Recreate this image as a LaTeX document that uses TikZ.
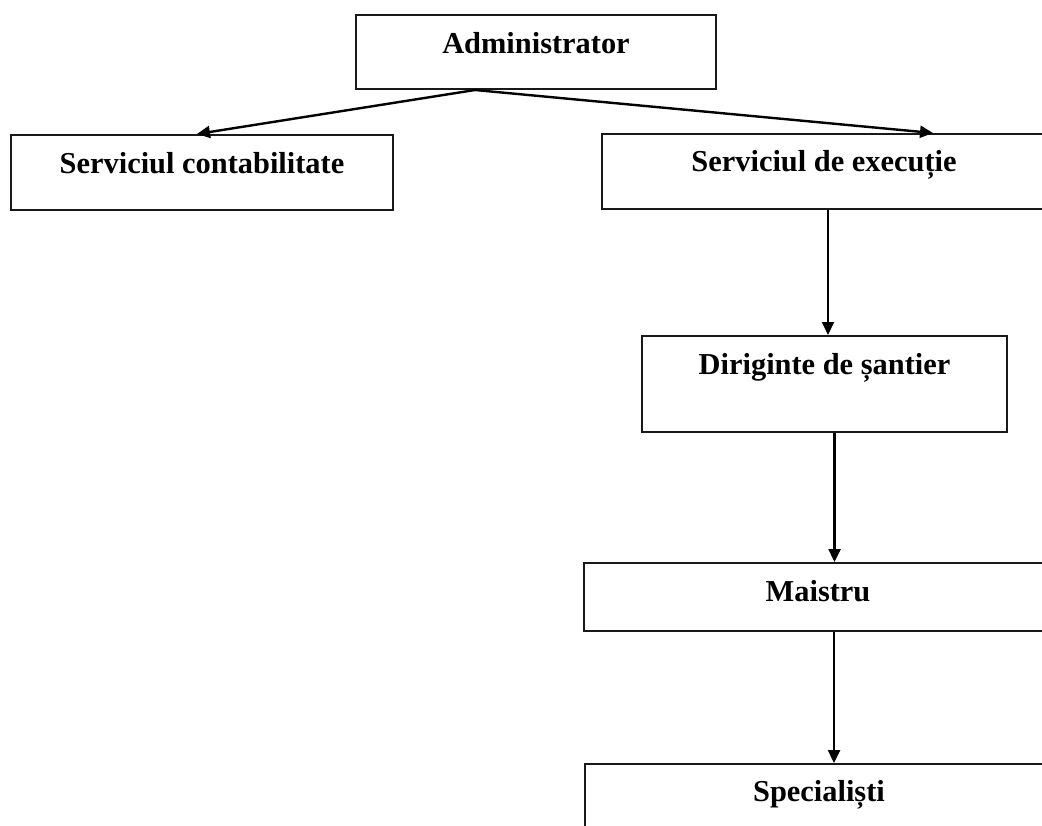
\documentclass[tikz,border=0pt]{standalone}
\usepackage{fontspec}
\setmainfont{Liberation Serif}
\usetikzlibrary{arrows.meta,positioning}
\tikzset{
  box/.style={rectangle, draw=black!90, line width=1.2pt, inner xsep=0pt, inner ysep=0pt,
    anchor=north, font=\fontsize{15.2}{18}\selectfont\bfseries},
  flow/.style={-{Triangle[length=6.5pt,width=6pt]}, draw=black, line width=1.2pt},
}
\begin{document}
\begin{tikzpicture}[x=0.5pt,y=-0.5pt]
    \useasboundingbox (0,0) rectangle (1042,825);
    \node[box, minimum width=180pt, text height=19pt, text depth=18pt] (admin) at (536,14) {Administrator};
    \node[box, minimum width=191pt, text height=19pt, text depth=18.5pt] (contab) at (202,134) {Serviciul contabilitate};
    \node[box, minimum width=222pt, text height=18.5pt, text depth=19pt] (exec) at (824,133) {Serviciul de execuție};
    \node[box, minimum width=182.5pt, text height=19pt, text depth=29pt] (dirig) at (824.5,335) {Diriginte de șantier};
    \node[box, minimum width=234pt, text height=19pt, text depth=15pt] (maistru) at (818,562) {Maistru};
    \node[box, minimum width=234pt, text height=18.5pt, text depth=22pt] (spec) at (819,763) {Specialiști};
    \coordinate (split) at (475,90);
    \draw[flow] (split) -- ([xshift=-2.5pt]contab.north);
    \draw[flow] (split) -- ([xshift=54.5pt]exec.north);
    \draw[flow, line width=0.9pt] ([xshift=2pt]exec.south) -- ([xshift=2pt]exec.south |- dirig.north);
    \draw[flow] ([xshift=5pt]dirig.south) -- ([xshift=5pt]dirig.south |- maistru.north);
    \draw[flow] ([xshift=8pt]maistru.south) -- ([xshift=8pt]maistru.south |- spec.north);
  \end{tikzpicture}
\end{document}
